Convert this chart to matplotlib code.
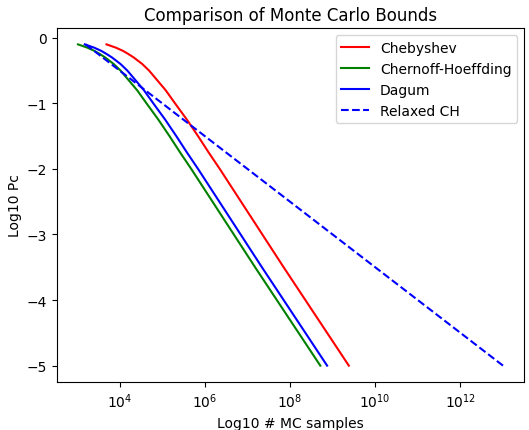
import matplotlib
matplotlib.use("Agg")
import matplotlib.pyplot as plt

# log10 of the probability Pc (shared grid for the three bound curves)
log_pc = [-0.1, -0.15, -0.2, -0.25, -0.3, -0.35, -0.4, -0.45, -0.5, -0.6,
          -0.7, -0.8, -0.9, -1.0, -1.25, -1.5, -1.75, -2.0, -2.5, -3.0,
          -3.5, -4.0, -4.5, -5.0]

# log10 of the number of Monte Carlo samples required by each bound
chebyshev = [3.69, 3.91, 4.08, 4.21, 4.33, 4.43, 4.53, 4.61, 4.69, 4.82,
             4.95, 5.08, 5.19, 5.30, 5.58, 5.84, 6.09, 6.35, 6.85, 7.35,
             7.85, 8.36, 8.87, 9.38]
chernoff_hoeffding = [3.02, 3.24, 3.41, 3.54, 3.66, 3.76, 3.86, 3.94, 4.02, 4.15,
                      4.28, 4.41, 4.52, 4.63, 4.91, 5.17, 5.42, 5.68, 6.18, 6.68,
                      7.18, 7.69, 8.20, 8.71]
dagum = [3.18, 3.40, 3.57, 3.70, 3.82, 3.92, 4.02, 4.10, 4.18, 4.31,
         4.44, 4.57, 4.68, 4.79, 5.07, 5.33, 5.58, 5.84, 6.34, 6.84,
         7.34, 7.85, 8.36, 8.87]

# relaxed Chernoff-Hoeffding bound
relaxed_log_pc = [-0.1, -0.5, -1.0, -1.5, -2.0, -3.0, -4.0, -5.0]
relaxed_ch = [3.2, 4.0, 5.0, 6.0, 7.0, 9.0, 11.0, 13.0]

fig = plt.figure(figsize=(5.29, 4.31), dpi=100)
ax = fig.add_axes([0.1072, 0.1121, 0.8838, 0.8199])

ax.plot([10 ** v for v in chebyshev], log_pc, "r-", label="Chebyshev")
ax.plot([10 ** v for v in chernoff_hoeffding], log_pc, "g-", label="Chernoff-Hoeffding")
ax.plot([10 ** v for v in dagum], log_pc, "b-", label="Dagum")
ax.plot([10 ** v for v in relaxed_ch], relaxed_log_pc, "b--", label="Relaxed CH")

ax.set_xscale("log")
ax.set_title("Comparison of Monte Carlo Bounds")
ax.set_xlabel("Log10 # MC samples")
ax.set_ylabel("Log10 Pc", labelpad=3)
ax.legend(loc="upper right")

fig.savefig("out.png", dpi=100)
